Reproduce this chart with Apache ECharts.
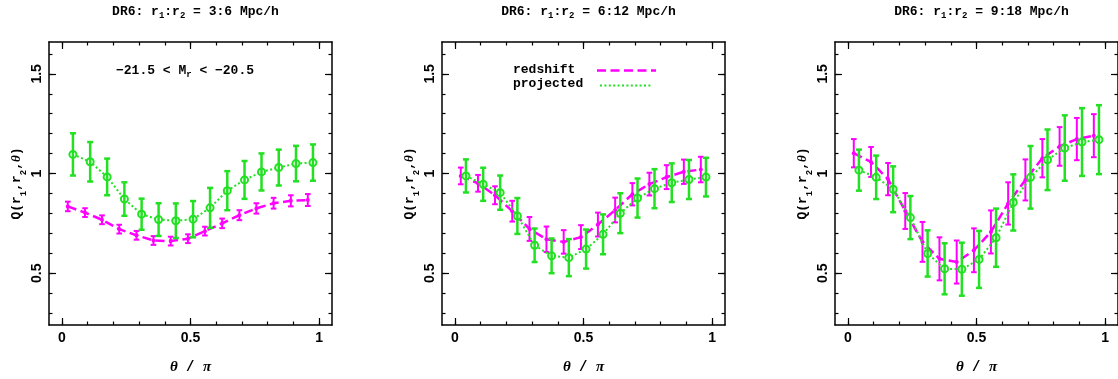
<!DOCTYPE html>
<html>
<head>
<meta charset="utf-8">
<script src="https://cdn.jsdelivr.net/npm/echarts@6/dist/echarts.min.js"></script>
<style>
html,body{margin:0;padding:0;background:#fff;}
#chart{width:1118px;height:379px;}
</style>
</head>
<body>
<div id="chart"></div>
<script>
// ---- data ----
const panelTitles = ['3:6', '6:12', '9:18'];
const xRedshift  = [0.023, 0.090, 0.156, 0.223, 0.290, 0.356, 0.423, 0.490, 0.556, 0.623, 0.690, 0.756, 0.823, 0.890, 0.956];
const xProjected = [0.043, 0.110, 0.176, 0.243, 0.310, 0.376, 0.443, 0.510, 0.576, 0.643, 0.710, 0.776, 0.843, 0.910, 0.976];

const p1Redshift     = [0.835, 0.804, 0.768, 0.721, 0.690, 0.664, 0.661, 0.673, 0.711, 0.750, 0.791, 0.825, 0.851, 0.863, 0.867];
const p1RedshiftErr  = [0.024, 0.022, 0.022, 0.022, 0.022, 0.022, 0.022, 0.022, 0.022, 0.024, 0.025, 0.026, 0.027, 0.028, 0.030];
const p1Projected    = [1.096, 1.059, 0.983, 0.872, 0.796, 0.769, 0.763, 0.771, 0.828, 0.914, 0.968, 1.008, 1.030, 1.050, 1.055];
const p1ProjectedErr = [0.106, 0.099, 0.092, 0.084, 0.078, 0.082, 0.087, 0.091, 0.100, 0.098, 0.095, 0.093, 0.090, 0.089, 0.091];

const p2Redshift     = [0.988, 0.951, 0.891, 0.811, 0.722, 0.670, 0.657, 0.681, 0.744, 0.817, 0.896, 0.947, 0.982, 1.009, 1.020];
const p2RedshiftErr  = [0.042, 0.042, 0.045, 0.052, 0.060, 0.064, 0.059, 0.060, 0.060, 0.062, 0.056, 0.057, 0.060, 0.061, 0.064];
const p2Projected    = [0.988, 0.946, 0.904, 0.787, 0.640, 0.587, 0.578, 0.621, 0.695, 0.801, 0.877, 0.924, 0.954, 0.970, 0.982];
const p2ProjectedErr = [0.083, 0.083, 0.086, 0.090, 0.084, 0.087, 0.093, 0.098, 0.100, 0.100, 0.098, 0.098, 0.097, 0.098, 0.097];

const p3Redshift     = [1.102, 1.058, 0.972, 0.812, 0.657, 0.572, 0.556, 0.615, 0.707, 0.850, 0.968, 1.077, 1.136, 1.173, 1.190];
const p3RedshiftErr  = [0.071, 0.075, 0.081, 0.090, 0.100, 0.108, 0.108, 0.110, 0.108, 0.106, 0.103, 0.096, 0.097, 0.106, 0.108];
const p3Projected    = [1.017, 0.981, 0.921, 0.779, 0.599, 0.522, 0.520, 0.569, 0.678, 0.855, 0.981, 1.069, 1.128, 1.158, 1.170];
const p3ProjectedErr = [0.103, 0.109, 0.115, 0.108, 0.116, 0.128, 0.133, 0.143, 0.146, 0.141, 0.157, 0.152, 0.164, 0.170, 0.173];

const xMajorTicks = [0, 0.5, 1];
const xMinorTicks = [0, 0.1, 0.2, 0.3, 0.4, 0.5, 0.6, 0.7, 0.8, 0.9, 1.0];
const yMajorTicks = [0.5, 1, 1.5];
const yMinorTicks = [0.3, 0.4, 0.5, 0.6, 0.7, 0.8, 0.9, 1.0, 1.1, 1.2, 1.3, 1.4, 1.5, 1.6];
const xLabels = {0: '0', 0.5: '0.5', 1: '1'};
const yLabels = {0.5: '0.5', 1: '1', 1.5: '1.5'};

const legendNames = ['redshift', 'projected'];
const annotationText = '−21.5 < M';

// ---- styles ----
const MAG = '#ff00ff';
const GRN = '#22e022';
const MONO = '"Liberation Mono", "DejaVu Sans Mono", monospace';
const SANS = '"Liberation Sans", Arial, sans-serif';
const SERIF = '"Liberation Serif", "DejaVu Serif", serif';

const panels = [
  {left: 49, red: p1Redshift, redErr: p1RedshiftErr, proj: p1Projected, projErr: p1ProjectedErr},
  {left: 442, red: p2Redshift, redErr: p2RedshiftErr, proj: p2Projected, projErr: p2ProjectedErr},
  {left: 835, red: p3Redshift, redErr: p3RedshiftErr, proj: p3Projected, projErr: p3ProjectedErr}
];
const GW = 283, GTOP = 42, GH = 283;
const XMIN = -0.05, XMAX = 1.05, YMIN = 0.24, YMAX = 1.66;

const grids = [], xAxes = [], yAxes = [], series = [], titles = [];

function makeErr(color, lw, capHalf) {
  return function (params, api) {
    const x = api.value(0), y = api.value(1), e = api.value(2);
    const t = api.coord([x, y + e]);
    const b = api.coord([x, y - e]);
    const st = {stroke: color, lineWidth: lw};
    return {type: 'group', children: [
      {type: 'line', shape: {x1: t[0], y1: t[1], x2: b[0], y2: b[1]}, style: st},
      {type: 'line', shape: {x1: t[0] - capHalf, y1: t[1], x2: t[0] + capHalf, y2: t[1]}, style: st},
      {type: 'line', shape: {x1: b[0] - capHalf, y1: b[1], x2: b[0] + capHalf, y2: b[1]}, style: st}
    ]};
  };
}

panels.forEach((p, i) => {
  grids.push({left: p.left, top: GTOP, width: GW, height: GH, containLabel: false, outerBoundsMode: 'none'});
  const base = {gridIndex: i, type: 'value', min: XMIN, max: XMAX, splitLine: {show: false}};
  xAxes.push(Object.assign({}, base, {
    position: 'bottom',
    axisLine: {show: true, onZero: false, lineStyle: {color: '#000', width: 1.5}},
    axisTick: {show: true, inside: true, length: 7, customValues: xMajorTicks, lineStyle: {color: '#000', width: 1.2}},
    axisLabel: {show: true, customValues: xMajorTicks, margin: 6, color: '#000', fontFamily: SANS, fontWeight: 'bold', fontSize: 14,
      formatter: v => xLabels[v] !== undefined ? xLabels[v] : ''},
    name: '{t|θ}{m| / }{t|π}', nameLocation: 'middle', nameGap: 35,
    nameTextStyle: {color: '#000', rich: {
      t: {fontFamily: SERIF, fontStyle: 'italic', fontWeight: 'bold', fontSize: 15, color: '#000'},
      m: {fontFamily: MONO, fontWeight: 'bold', fontSize: 14, color: '#000'}
    }}
  }));
  xAxes.push(Object.assign({}, base, {
    position: 'bottom', axisLine: {show: false, onZero: false},
    axisTick: {show: true, inside: true, length: 3.5, customValues: xMinorTicks, lineStyle: {color: '#000', width: 1.2}},
    axisLabel: {show: false}
  }));
  xAxes.push(Object.assign({}, base, {
    position: 'top',
    axisLine: {show: true, onZero: false, lineStyle: {color: '#000', width: 1.5}},
    axisTick: {show: true, inside: true, length: 7, customValues: xMajorTicks, lineStyle: {color: '#000', width: 1.2}},
    axisLabel: {show: false}
  }));
  xAxes.push(Object.assign({}, base, {
    position: 'top', axisLine: {show: false, onZero: false},
    axisTick: {show: true, inside: true, length: 3.5, customValues: xMinorTicks, lineStyle: {color: '#000', width: 1.2}},
    axisLabel: {show: false}
  }));

  const ybase = {gridIndex: i, type: 'value', min: YMIN, max: YMAX, splitLine: {show: false}};
  yAxes.push(Object.assign({}, ybase, {
    position: 'left',
    axisLine: {show: true, onZero: false, lineStyle: {color: '#000', width: 1.5}},
    axisTick: {show: true, inside: true, length: 7, customValues: yMajorTicks, lineStyle: {color: '#000', width: 1.2}},
    axisLabel: {show: true, customValues: yMajorTicks, rotate: 90, margin: 5, color: '#000', fontFamily: SANS, fontWeight: 'bold', fontSize: 14,
      formatter: v => yLabels[v] !== undefined ? yLabels[v] : ''},
    name: '{m|Q(r}{s|1}{m|,r}{s|2}{m|,}{t|θ}{m|)}', nameLocation: 'middle', nameGap: 26,
    nameTextStyle: {color: '#000', rich: {
      m: {fontFamily: MONO, fontWeight: 'bold', fontSize: 13, color: '#000'},
      s: {fontFamily: MONO, fontWeight: 'bold', fontSize: 9, color: '#000', verticalAlign: 'bottom', padding: [0, 0, -5, 0]},
      t: {fontFamily: SERIF, fontStyle: 'italic', fontWeight: 'bold', fontSize: 13, color: '#000'}
    }}
  }));
  yAxes.push(Object.assign({}, ybase, {
    position: 'left', axisLine: {show: false, onZero: false},
    axisTick: {show: true, inside: true, length: 3.5, customValues: yMinorTicks, lineStyle: {color: '#000', width: 1.2}},
    axisLabel: {show: false}
  }));
  yAxes.push(Object.assign({}, ybase, {
    position: 'right',
    axisLine: {show: true, onZero: false, lineStyle: {color: '#000', width: 1.5}},
    axisTick: {show: true, inside: true, length: 7, customValues: yMajorTicks, lineStyle: {color: '#000', width: 1.2}},
    axisLabel: {show: false}
  }));
  yAxes.push(Object.assign({}, ybase, {
    position: 'right', axisLine: {show: false, onZero: false},
    axisTick: {show: true, inside: true, length: 3.5, customValues: yMinorTicks, lineStyle: {color: '#000', width: 1.2}},
    axisLabel: {show: false}
  }));

  const xi = i * 4, yi = i * 4;
  const redData = xRedshift.map((x, k) => [x, p.red[k], p.redErr[k]]);
  const projData = xProjected.map((x, k) => [x, p.proj[k], p.projErr[k]]);

  series.push({
    type: 'line', name: 'redshift', xAxisIndex: xi, yAxisIndex: yi, data: redData.map(d => [d[0], d[1]]),
    symbol: 'circle', symbolSize: 4, itemStyle: {color: MAG},
    lineStyle: {color: MAG, width: 2.5, type: [9, 4.5]}, z: 2, animation: false, silent: true
  });
  series.push({
    type: 'custom', xAxisIndex: xi, yAxisIndex: yi, data: redData,
    renderItem: makeErr(MAG, 2, 2.8), z: 3, animation: false, silent: true
  });
  series.push({
    type: 'line', name: 'projected', xAxisIndex: xi, yAxisIndex: yi, data: projData.map(d => [d[0], d[1]]),
    symbol: 'emptyCircle', symbolSize: 7, itemStyle: {color: GRN, borderColor: GRN, borderWidth: 1},
    lineStyle: {color: GRN, width: 2, type: [2, 2.4]}, z: 4, animation: false, silent: true
  });
  series.push({
    type: 'custom', xAxisIndex: xi, yAxisIndex: yi, data: projData,
    renderItem: makeErr(GRN, 2.5, 3), z: 5, animation: false, silent: true
  });

  titles.push({
    text: '{m|DR6: r}{s|1}{m|:r}{s|2}{m| = ' + panelTitles[i] + ' Mpc/h}',
    left: p.left + GW / 2, top: -1, textAlign: 'center',
    textStyle: {rich: {
      m: {fontFamily: MONO, fontWeight: 'bold', fontSize: 13, color: '#000', lineHeight: 16},
      s: {fontFamily: MONO, fontWeight: 'bold', fontSize: 9, color: '#000', padding: [8, 0, 0, 0], lineHeight: 16}
    }}
  });
});

const graphic = [
  {type: 'text', left: 116, top: 62, style: {
    text: '{m|' + annotationText + '}{s|r}{m| < −20.5}',
    rich: {
      m: {fontFamily: MONO, fontWeight: 'bold', fontSize: 13, fill: '#000', lineHeight: 16},
      s: {fontFamily: MONO, fontWeight: 'bold', fontSize: 9, fill: '#000', padding: [8, 0, 0, 0], lineHeight: 16}
    }}},
  {type: 'text', left: 513, top: 63, style: {text: legendNames[0], fontFamily: MONO, fontWeight: 'bold', fontSize: 13, fill: '#000'}},
  {type: 'text', left: 513, top: 77, style: {text: legendNames[1], fontFamily: MONO, fontWeight: 'bold', fontSize: 13, fill: '#000'}},
  {type: 'line', shape: {x1: 597, y1: 70.5, x2: 656, y2: 70.5}, style: {stroke: MAG, lineWidth: 2.5, lineDash: [9, 4.5]}},
  {type: 'line', shape: {x1: 600, y1: 85.5, x2: 652, y2: 85.5}, style: {stroke: GRN, lineWidth: 2, lineDash: [2, 2.4]}}
];

const chart = echarts.init(document.getElementById('chart'), null, {renderer: 'canvas'});
chart.setOption({
  animation: false,
  backgroundColor: '#fff',
  title: titles,
  grid: grids,
  xAxis: xAxes,
  yAxis: yAxes,
  series: series,
  graphic: graphic
});
</script>
</body>
</html>
